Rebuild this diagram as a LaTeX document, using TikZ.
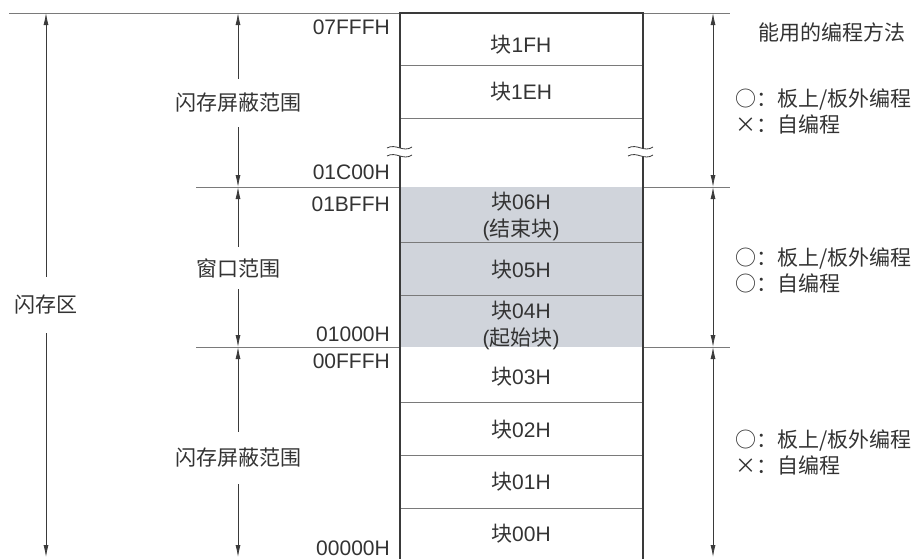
\documentclass[tikz,border=0pt]{standalone}
\usepackage{fontspec}
\setmainfont{Liberation Sans}
\newfontfamily\zhfont{Noto Sans CJK SC}
\newcommand{\zh}[1]{{\zhfont #1}}
\usetikzlibrary{arrows.meta}
\definecolor{memline}{HTML}{3A3A3A}
\definecolor{memgrid}{HTML}{7A7A7A}
\definecolor{memtext}{HTML}{333333}
\definecolor{winfill}{HTML}{D0D4DB}

\begin{document}
\begin{tikzpicture}[x=1pt, y=-1pt,
          every node/.style={text=memtext, font=\fontsize{21}{27}\selectfont, inner sep=0pt},
          addr/.style={anchor=east},
          blk/.style={align=center},
          rng/.style={font=\zhfont\fontsize{21}{27}\selectfont, minimum height=48pt},
          meth/.style={anchor=west, align=left, font=\zhfont\fontsize{21}{26}\selectfont},
          dim/.style={draw=memline, line width=0.8pt, -{Latex[length=12pt,width=5pt]}},
          dimb/.style={draw=memline, line width=0.8pt, {Latex[length=12pt,width=5pt]}-{Latex[length=12pt,width=5pt]}},
          grid/.style={draw=memgrid, line width=1pt}]
        \useasboundingbox (0,0) rectangle (918,558);
        % window blocks
        \fill[winfill] (400,187) rectangle (643,347);
        % boundary lines
        \draw[grid] (9,13) -- (400,13) (643,13) -- (730,13);
        \draw[grid] (196,187) -- (400,187) (643,187) -- (730,187);
        \draw[grid] (196,347) -- (400,347) (643,347) -- (730,347);
        % block separators
        \foreach \y in {65,118,242,295,402,455,508}
          \draw[grid] (400,\y) -- (643,\y);
        % memory frame
        \draw[memline, line width=2pt] (400,560) -- (400,13) -- (643,13) -- (643,560);
        % break marks
        \foreach \x in {400,641}{
          \fill[white] (\x-13,148) .. controls (\x-4,143) and (\x+3,153) .. (\x+12,147)
            -- (\x+12,155) .. controls (\x+3,161) and (\x-4,151) .. (\x-13,156) -- cycle;
          \draw[memline, line width=0.8pt] (\x-13,148) .. controls (\x-4,143) and (\x+3,153) .. (\x+12,147);
          \draw[memline, line width=0.8pt] (\x-13,156) .. controls (\x-4,151) and (\x+3,161) .. (\x+12,155);
        }
        % block labels
        \node[blk] (b1f) at (521,45) {\zh{块}1FH};
        \node[blk] (b1e) at (521,92) {\zh{块}1EH};
        \node[blk] (b06) at (521,216) {\zh{块}06H\\(\zh{结束块})};
        \node[blk] (b05) at (521,270) {\zh{块}05H};
        \node[blk] (b04) at (521,325) {\zh{块}04H\\(\zh{起始块})};
        \node[blk] (b03) at (521,377) {\zh{块}03H};
        \node[blk] (b02) at (521,430) {\zh{块}02H};
        \node[blk] (b01) at (521,482) {\zh{块}01H};
        \node[blk] (b00) at (521,534) {\zh{块}00H};
        % addresses
        \node[addr] (a7fff) at (390,27) {07FFFH};
        \node[addr] (a1c00) at (390,172) {01C00H};
        \node[addr] (a1bff) at (390,204) {01BFFH};
        \node[addr] (a1000) at (390,334) {01000H};
        \node[addr] (a0fff) at (390,361) {00FFFH};
        \node[addr] (a0000) at (390,548) {00000H};
        % range ends
        \coordinate (ytop) at (0,13);
        \coordinate (ywin) at (0,187);
        \coordinate (ylow) at (0,347);
        \coordinate (ybot) at (0,557);
        % ranges on the left
        \node[rng, minimum height=56pt] (flash) at (46,305) {闪存区};
        \node[rng] (maskhi) at (238,103) {闪存屏蔽范围};
        \node[rng, minimum height=42pt] (win) at (238,268) {窗口范围};
        \node[rng, minimum height=52pt] (masklo) at (238,458) {闪存屏蔽范围};
        \draw[dim] (flash.north) -- (flash.north |- ytop);
        \draw[dim] (flash.south) -- (flash.south |- ybot);
        \draw[dim] (maskhi.north) -- (maskhi.north |- ytop);
        \draw[dim] (maskhi.south) -- (maskhi.south |- ywin);
        \draw[dim] (win.north) -- (win.north |- ywin);
        \draw[dim] (win.south) -- (win.south |- ylow);
        \draw[dim] (masklo.north) -- (masklo.north |- ylow);
        \draw[dim] (masklo.south) -- (masklo.south |- ybot);
        % ranges on the right
        \coordinate (r1) at (713,13);
        \coordinate (r2) at (713,187);
        \coordinate (r3) at (713,347);
        \coordinate (r4) at (713,557);
        \draw[dimb] (r1) -- (r2);
        \draw[dimb] (r2) -- (r3);
        \draw[dimb] (r3) -- (r4);
        % programming methods
        \node[meth] (mtitle) at (758,33) {能用的编程方法};
        \node[meth] (mhi) at (735,111) {○：板上/板外编程\\×：自编程};
        \node[meth] (mwin) at (735,270) {○：板上/板外编程\\○：自编程};
        \node[meth] (mlo) at (735,452) {○：板上/板外编程\\×：自编程};
      \end{tikzpicture}
\end{document}
